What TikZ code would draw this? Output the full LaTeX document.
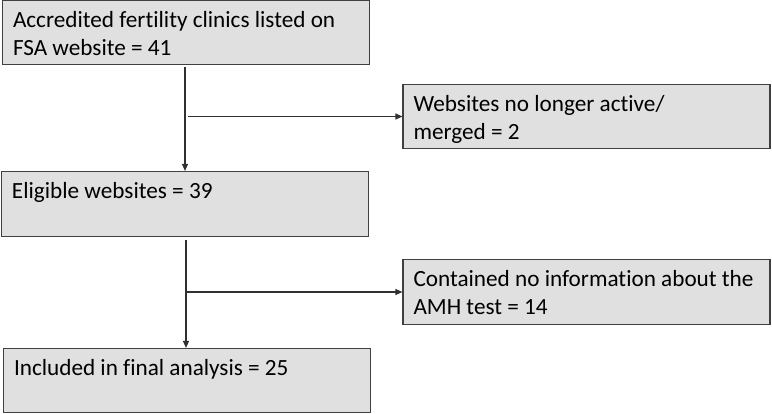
\documentclass[tikz,border=0pt]{standalone}
\usepackage{fontspec}
\setmainfont{Carlito}[Ligatures={NoCommon,NoRare}, RawFeature={-liga;-clig}]
\usetikzlibrary{arrows.meta,calc}
\definecolor{boxfill}{HTML}{E0E0E0}
\definecolor{boxline}{HTML}{404040}
\definecolor{arrline}{HTML}{303030}
\newcommand{\bxtext}[2]{\parbox[c][#1][t]{346pt}{\raggedright\rule{0pt}{27.5pt}#2}}
\begin{document}
\begin{tikzpicture}[x=1pt,y=-1pt,
  flowbox/.style={draw=boxline, fill=boxfill, line width=1.1pt, inner xsep=10.5pt, inner ysep=0pt,
    font=\fontsize{23.2}{28}\selectfont, text=black},
  flowarrow/.style={draw=arrline, line width=1.3pt, -{Triangle[length=7pt,width=6pt]}}]
\useasboundingbox (0,0) rectangle (772,414);
\node[flowbox] (b1) at (186,32.5) {\bxtext{64pt}{Accredited fertility clinics listed on\\FSA website = 41}};
\node[flowbox] (bw) at (586.5,116.5) {\bxtext{64pt}{Websites no longer active/\\merged = 2}};
\node[flowbox] (b2) at (185,204) {\bxtext{65pt}{Eligible websites = 39}};
\node[flowbox] (bc) at (586.5,292) {\bxtext{65pt}{Contained no information about the\\AMH test = 14}};
\node[flowbox] (b3) at (187,380.5) {\bxtext{64pt}{Included in final analysis = 25}};
\coordinate (s1) at ($(b1.south)+(-1,2)$);
\coordinate (m1) at (s1 |- bw.west);
\draw[flowarrow] (s1) -- (s1 |- b2.north);
\draw[flowarrow] ($(m1)+(3,0)$) -- (bw.west);
\coordinate (s2) at ($(b2.south)+(1,3)$);
\coordinate (m2) at (s2 |- bc.west);
\draw[flowarrow] (s2) -- (s2 |- b3.north);
\draw[flowarrow] (m2) -- (bc.west);
\end{tikzpicture}
\end{document}
